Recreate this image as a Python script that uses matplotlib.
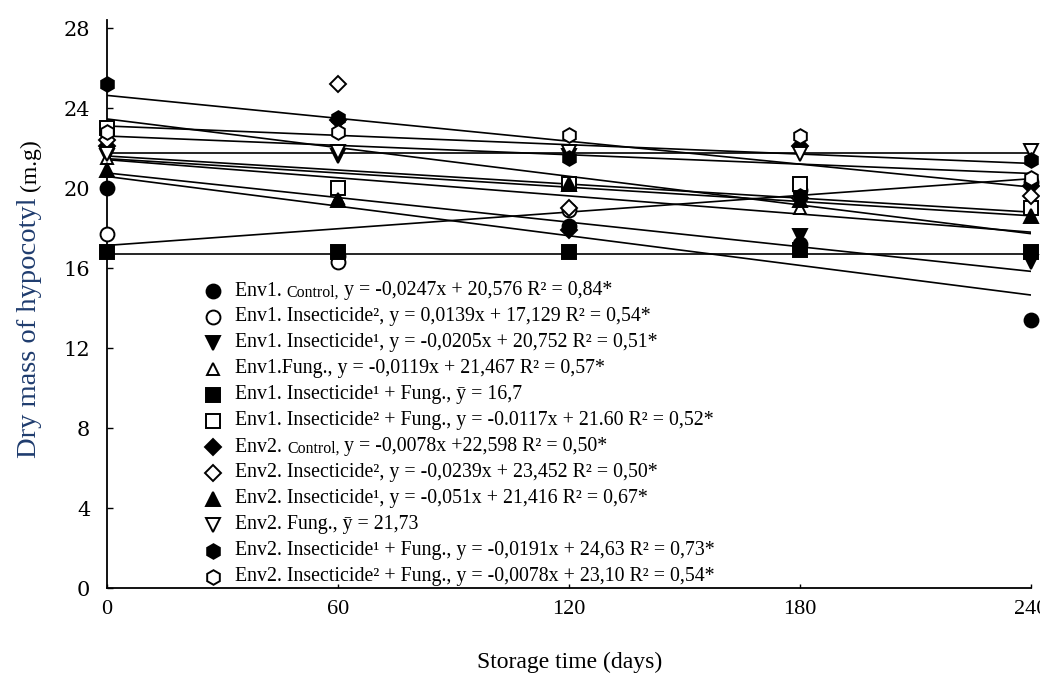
import matplotlib
matplotlib.use("Agg")
import matplotlib.pyplot as plt
import numpy as np

days = [0, 60, 120, 180, 240]
y_ticks = [0, 4, 8, 12, 16, 20, 24, 28]

env1_control = [20.0, 16.6, 18.1, 17.2, 13.4]
env1_ins2 = [17.7, 16.3, 18.9, 19.9, 20.3]
env1_ins1 = [21.6, 21.6, 21.6, 17.6, 16.3]
env1_fung = [21.5, 19.5, 20.2, 19.0, 19.1]
env1_ins1_fung = [16.8, 16.8, 16.8, 16.9, 16.8]
env1_ins2_fung = [23.0, 20.0, 20.2, 20.2, 19.0]
env2_control = [22.1, 23.4, 17.9, 22.1, 20.1]
env2_ins2 = [22.4, 25.2, 19.0, 19.5, 19.6]
env2_ins1 = [20.9, 19.4, 20.2, 19.4, 18.6]
env2_fung = [21.7, 21.8, 21.8, 21.7, 21.85]
env2_ins1_fung = [25.2, 23.5, 21.5, 19.6, 21.4]
env2_ins2_fung = [22.8, 22.8, 22.65, 22.6, 20.5]

series = [env1_control, env1_ins2, env1_ins1, env1_fung, env1_ins1_fung, env1_ins2_fung,
          env2_control, env2_ins2, env2_ins1, env2_fung, env2_ins1_fung, env2_ins2_fung]

# fitted lines (slope, intercept) as drawn in the chart
slopes = [-0.0247, 0.0139, -0.0205, -0.0119, 0.0, -0.0117, -0.0078, -0.0239, -0.0151, 0.0, -0.0191, -0.0078]
intercepts = [20.576, 17.129, 20.752, 21.467, 16.7, 21.60, 22.598, 23.452, 21.416, 21.73, 24.63, 23.10]

labels = [
    [("Env1. ", 1.0), ("Control,", 0.8), (" y = -0,0247x + 20,576 R² = 0,84*", 1.0)],
    [("Env1. Insecticide², y = 0,0139x + 17,129 R² = 0,54*", 1.0)],
    [("Env1. Insecticide¹, y = -0,0205x + 20,752 R² = 0,51*", 1.0)],
    [("Env1.Fung., y = -0,0119x + 21,467 R² = 0,57*", 1.0)],
    [("Env1. Insecticide¹ + Fung., ȳ = 16,7", 1.0)],
    [("Env1. Insecticide² + Fung., y = -0.0117x + 21.60 R² = 0,52*", 1.0)],
    [("Env2. ", 1.0), ("Control,", 0.8), (" y = -0,0078x +22,598 R² = 0,50*", 1.0)],
    [("Env2. Insecticide², y = -0,0239x + 23,452 R² = 0,50*", 1.0)],
    [("Env2. Insecticide¹, y = -0,051x + 21,416 R² = 0,67*", 1.0)],
    [("Env2. Fung., ȳ = 21,73", 1.0)],
    [("Env2. Insecticide¹ + Fung., y = -0,0191x + 24,63 R² = 0,73*", 1.0)],
    [("Env2. Insecticide² + Fung., y = -0,0078x + 23,10 R² = 0,54*", 1.0)],
]

markers = ['o', 'o', 'v', '^', 's', 's', 'D', 'D', '^', 'v', 'h', 'h']
filled = [True, False, True, False, True, False, True, False, True, False, True, False]
msizes = [10, 10, 10, 9, 9.5, 9.5, 8, 8, 9.5, 9.5, 10.5, 10.5]

fig = plt.figure(figsize=(10.4, 6.8), dpi=100)
ax = fig.add_axes([107 / 1040, 92 / 680, (1031 - 107) / 1040, 568 / 680])

xline = np.array([days[0], days[-1]])
for s, b in zip(slopes, intercepts):
    ax.plot(xline, b + s * xline, color='black', lw=1.2, zorder=2, solid_capstyle='butt')

for vals, m, f, ms in zip(series, markers, filled, msizes):
    ax.plot(days, vals, linestyle='none', marker=m, markersize=ms,
            markerfacecolor='black' if f else 'white', markeredgecolor='black',
            markeredgewidth=1.4, zorder=3, clip_on=False)

ax.set_xlim(0, 240)
ax.set_ylim(0, 28.4)
ax.set_xticks(days)
ax.set_yticks(y_ticks)
ax.set_xticklabels([str(d) for d in days], fontfamily='Liberation Serif', fontsize=16)
ax.set_yticklabels([str(t) for t in y_ticks], fontfamily='DejaVu Serif', fontsize=15)
ax.tick_params(axis='y', direction='in', length=4, width=1, pad=12)
ax.tick_params(axis='x', direction='in', length=3, width=1, pad=9)
for sp in ['top', 'right']:
    ax.spines[sp].set_visible(False)
for sp in ['left', 'bottom']:
    ax.spines[sp].set_linewidth(1.3)

# legend drawn inside the axes
fs = 14.3
mx = (213 - 107) / 924
tx = (235 - 107) / 924
y0 = (588 - 291) / 568
dy = 26 / 568
for i, (lab, m, f, ms) in enumerate(zip(labels, markers, filled, msizes)):
    yy = y0 - i * dy
    ax.plot([mx], [yy], transform=ax.transAxes, linestyle='none', marker=m, markersize=ms,
            markerfacecolor='black' if f else 'white', markeredgecolor='black',
            markeredgewidth=1.4, clip_on=False, zorder=4)
    prev = ax.text(tx, yy, lab[0][0], transform=ax.transAxes, ha='left', va='center',
                   fontfamily='Liberation Serif', fontsize=fs * lab[0][1], zorder=4)
    for txt, sc in lab[1:]:
        prev = ax.annotate(txt, xy=(1, 0), xycoords=prev, ha='left', va='bottom',
                           fontfamily='Liberation Serif', fontsize=fs * sc, zorder=4)

fig.text(570 / 1040, 18 / 680, "Storage time (days)", ha='center', va='center',
         fontfamily='Liberation Serif', fontsize=17)
t1 = fig.text(30 / 1040, (680 - 458) / 680, "Dry mass of hypocotyl", rotation=90,
              ha='center', va='bottom', fontfamily='Liberation Serif', fontsize=20.5,
              color='#1f3c6e')
ax.annotate("(m.g)", xy=(0.5, 1), xycoords=t1, xytext=(0, 5), textcoords='offset points',
            rotation=90, ha='center', va='bottom', fontfamily='Liberation Serif', fontsize=17,
            color='black')

fig.savefig("out.png", dpi=100)
